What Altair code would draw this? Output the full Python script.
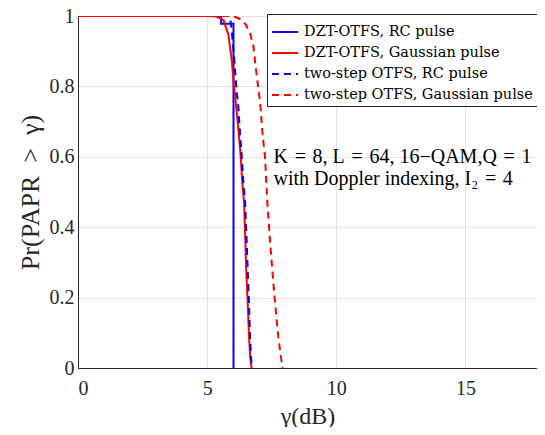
import altair as alt
import pandas as pd

FONT = "Liberation Serif"
LEG_FONT = "DejaVu Serif"

series_names = [
    "DZT-OTFS, RC pulse",
    "DZT-OTFS, Gaussian pulse",
    "two-step OTFS, RC pulse",
    "two-step OTFS, Gaussian pulse",
]
series_colors = ["#0000ff", "#ff0000", "#0000ff", "#ff0000"]
series_dash = [[1, 0], [1, 0], [7, 5], [7, 5]]

# DZT-OTFS, RC pulse
g_dzt_rc = [0, 5.54, 5.54, 6.02, 6.02]
p_dzt_rc = [1, 1, 0.978, 0.978, 0]

# DZT-OTFS, Gaussian pulse
g_dzt_g = [0, 5.19, 5.37, 5.63, 5.82, 5.95, 6.04, 6.12, 6.22, 6.30, 6.36, 6.43, 6.48, 6.51, 6.57, 6.62, 6.67, 6.72]
p_dzt_g = [1, 1, 0.998, 0.989, 0.947, 0.877, 0.80, 0.745, 0.67, 0.60, 0.527, 0.47, 0.36, 0.28, 0.185, 0.092, 0.028, 0]

# two-step OTFS, RC pulse
g_ts_rc = [0, 5.85, 5.90, 5.95, 6.05, 6.14, 6.20, 6.27, 6.34, 6.40, 6.47, 6.53, 6.57, 6.62, 6.66, 6.70, 6.74]
p_ts_rc = [1, 1, 0.99, 0.96, 0.877, 0.785, 0.75, 0.67, 0.60, 0.53, 0.47, 0.36, 0.28, 0.185, 0.092, 0.028, 0]

# two-step OTFS, Gaussian pulse
g_ts_g = [0, 5.85, 6.10, 6.34, 6.50, 6.66, 6.79, 6.92, 7.05, 7.15, 7.24, 7.33, 7.43, 7.52, 7.63, 7.75, 7.86, 7.92]
p_ts_g = [1, 1, 0.997, 0.989, 0.975, 0.952, 0.914, 0.83, 0.756, 0.66, 0.60, 0.47, 0.365, 0.28, 0.185, 0.092, 0.028, 0]

x_ticks = [0, 5, 10, 15]
y_ticks = [0, 0.2, 0.4, 0.6, 0.8, 1]
x_max = 17.77  # visible right edge of the axis box

ann_line1 = "K\u2004=\u20048, L\u2004=\u200464, 16\u2212QAM,Q\u2004=\u20041"
ann_line2 = "with Doppler indexing, I\u2082\u2004=\u20044"
ann_x = [7.57, 7.57]
ann_y = [0.599, 0.537]

rows = []
for name, gs, ps in zip(series_names,
                        [g_dzt_rc, g_dzt_g, g_ts_rc, g_ts_g],
                        [p_dzt_rc, p_dzt_g, p_ts_rc, p_ts_g]):
    for i, (g, p) in enumerate(zip(gs, ps)):
        rows.append({"series": name, "gamma": g, "p": p, "order": i})
df = pd.DataFrame(rows)

ann_df = pd.DataFrame({"x": ann_x, "y": ann_y, "text": [ann_line1, ann_line2]})

xscale = alt.Scale(domain=[0, x_max], nice=False)
yscale = alt.Scale(domain=[0, 1], nice=False)

leg = alt.Legend(title=None, orient="none", legendX=189, legendY=-2)

lines = alt.Chart(df).mark_line(strokeWidth=2, clip=True).encode(
    x=alt.X("gamma:Q", scale=xscale,
            axis=alt.Axis(values=x_ticks, title="\u03b3(dB)", ticks=False,
                          labelPadding=10, titleY=55, titleBaseline="alphabetic",
                          titleFontSize=24)),
    y=alt.Y("p:Q", scale=yscale,
            axis=alt.Axis(values=y_ticks, format="~g",
                          title="Pr(PAPR\u2002>\u2002\u03b3)",
                          ticks=False, labelPadding=4, titleX=-40,
                          titleBaseline="alphabetic", titleFontSize=26)),
    color=alt.Color("series:N",
                    scale=alt.Scale(domain=series_names, range=series_colors),
                    legend=leg),
    strokeDash=alt.StrokeDash("series:N",
                              scale=alt.Scale(domain=series_names, range=series_dash),
                              legend=leg),
    order="order:Q",
)

ann = alt.Chart(ann_df).mark_text(align="left", baseline="middle", font=FONT,
                                   fontSize=20, color="#000000").encode(
    x=alt.X("x:Q", scale=xscale),
    y=alt.Y("y:Q", scale=yscale),
    text="text:N",
)

chart = alt.layer(lines, ann).properties(
    width=459, height=352,
    autosize=alt.AutoSizeParams(type="none"),
    padding={"left": 70, "top": 8, "right": 0, "bottom": 59},
).configure_view(
    stroke="#262626", strokeWidth=1
).configure_axis(
    labelFont=FONT, titleFont=FONT, labelFontSize=20,
    labelColor="#262626", titleColor="#262626", titleFontWeight="normal",
    domainColor="#262626", gridColor="#e3e3e3", gridWidth=1,
).configure_legend(
    labelFont=LEG_FONT, labelFontSize=14.5, labelColor="#000000", labelLimit=400,
    symbolType="stroke", symbolSize=676, symbolStrokeWidth=2,
    strokeColor="#262626", fillColor="#ffffff", padding=4,
    rowPadding=0, labelOffset=5, cornerRadius=0,
)

chart.save("out.html", embed_options={"renderer": "svg", "actions": False})
